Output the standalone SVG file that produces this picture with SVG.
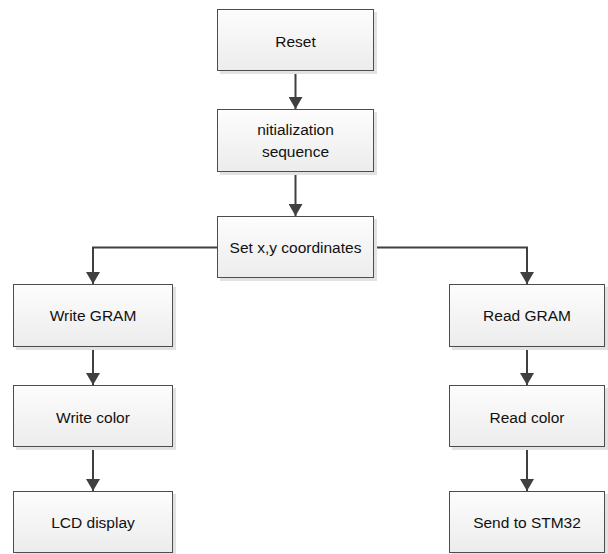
<svg xmlns="http://www.w3.org/2000/svg" width="608" height="554" viewBox="0 0 608 554">
<style>
.box{fill:url(#g);stroke:#4d4d4d;stroke-width:1}
.sh{fill:#e2e2e2}
.t{font-family:"Liberation Sans",Arial,sans-serif;font-size:15.5px;fill:#111;text-anchor:middle}
.c{fill:none;stroke:#404040;stroke-width:2}
</style>
<defs>
<linearGradient id="g" x1="0" y1="0" x2="0" y2="1">
<stop offset="0" stop-color="#fdfdfd"/>
<stop offset="1" stop-color="#ececec"/>
</linearGradient>
<marker id="a" viewBox="0 0 12 14" refX="12" refY="7" markerWidth="12" markerHeight="14" markerUnits="userSpaceOnUse" orient="auto">
<path d="M0,0 L12,7 L0,14 Z" fill="#404040"/>
</marker>
</defs>
<g id="connectors">
<line class="c" x1="295.5" y1="72" x2="295.5" y2="109" marker-end="url(#a)"/>
<line class="c" x1="295.5" y1="172" x2="295.5" y2="216" marker-end="url(#a)"/>
<polyline class="c" points="217,247.5 93,247.5 93,284" marker-end="url(#a)"/>
<polyline class="c" points="374,247.5 527,247.5 527,284" marker-end="url(#a)"/>
<line class="c" x1="93" y1="347" x2="93" y2="385" marker-end="url(#a)"/>
<line class="c" x1="93" y1="447" x2="93" y2="491" marker-end="url(#a)"/>
<line class="c" x1="527" y1="347" x2="527" y2="385" marker-end="url(#a)"/>
<line class="c" x1="527" y1="447" x2="527" y2="491" marker-end="url(#a)"/>
</g>
<g id="reset"><rect class="sh" x="220" y="12" width="157" height="62"/><rect class="box" x="217.5" y="9.5" width="156" height="61"/><text class="t" x="295.5" y="46.5">Reset</text></g>
<g id="init"><rect class="sh" x="220" y="112" width="157" height="63"/><rect class="box" x="217.5" y="109.5" width="156" height="62"/><text class="t" x="295.5" y="135">nitialization</text><text class="t" x="295.5" y="156.5">sequence</text></g>
<g id="setxy"><rect class="sh" x="220" y="219" width="157" height="62"/><rect class="box" x="217.5" y="216.5" width="156" height="61"/><text class="t" x="295.5" y="253">Set x,y coordinates</text></g>
<g id="writegram"><rect class="sh" x="16" y="287" width="160" height="63"/><rect class="box" x="13.5" y="284.5" width="159" height="62"/><text class="t" x="93" y="321">Write GRAM</text></g>
<g id="writecolor"><rect class="sh" x="16" y="388" width="160" height="62"/><rect class="box" x="13.5" y="385.5" width="159" height="61"/><text class="t" x="93" y="422.5">Write color</text></g>
<g id="lcd"><rect class="sh" x="16" y="494" width="160" height="62"/><rect class="box" x="13.5" y="491.5" width="159" height="61"/><text class="t" x="93" y="528">LCD display</text></g>
<g id="readgram"><rect class="sh" x="452" y="287" width="157" height="63"/><rect class="box" x="449.5" y="284.5" width="155" height="62"/><text class="t" x="527" y="321">Read GRAM</text></g>
<g id="readcolor"><rect class="sh" x="452" y="388" width="157" height="62"/><rect class="box" x="449.5" y="385.5" width="155" height="61"/><text class="t" x="527" y="422.5">Read color</text></g>
<g id="send"><rect class="sh" x="452" y="494" width="157" height="62"/><rect class="box" x="449.5" y="491.5" width="155" height="61"/><text class="t" x="527" y="528">Send to STM32</text></g>
</svg>
